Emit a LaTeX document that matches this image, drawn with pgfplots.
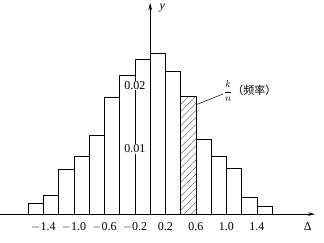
\documentclass[border=0pt]{standalone}
\usepackage{pgfplots}
\pgfplotsset{compat=1.18}
\usepackage{fontspec}
\setmainfont{Liberation Serif}
\newfontfamily\cjk{Noto Sans CJK SC}
\usetikzlibrary{arrows.meta,patterns.meta}
\begin{document}
\begin{tikzpicture}
\fontsize{12pt}{14pt}\selectfont
\begin{axis}[
  scale only axis,
  width=315pt, height=211.3pt,
  xmin=-1.965, xmax=2.161,
  ymin=0, ymax=0.03266,
  axis lines=middle,
  axis line style={line width=0.6pt,-{Stealth[length=7pt,width=3.5pt]}},
  xtick={-1.4,-1.0,-0.6,-0.2,0.2,0.6,1.0,1.4},
  xticklabels={$-$1.4,$-$1.0,$-$0.6,$-$0.2,0.2,0.6,1.0,1.4},
  ytick=\empty,
  major tick length=0pt,
  xticklabel style={font=\fontsize{12pt}{14pt}\selectfont, yshift=-4pt, inner xsep=0pt},
  clip=false,
]
\addplot[ybar interval, draw=black, fill=white, line width=0.8pt] coordinates {
  (-1.6,0.0017) (-1.4,0.0029) (-1.2,0.0069) (-1.0,0.00886)
  (-0.8,0.01216) (-0.6,0.01804) (-0.4,0.02148) (-0.2,0.0240)
  (0.0,0.02488) (0.2,0.02215) (0.4,0.01819) (0.6,0.01148)
  (0.8,0.00886) (1.0,0.0070) (1.2,0.00263) (1.4,0.00119) (1.6,0)
};
\addplot[ybar interval, draw=black, line width=0.8pt,
  pattern={Lines[angle=45,distance=5pt,line width=0.35pt]}, pattern color=black!70] coordinates {
  (0.4,0.01819) (0.6,0)
};
\draw[line width=0.6pt] (axis cs:0,0) -- (axis cs:0,0.0249);
\node[fill=white, inner sep=0.8pt] at (axis cs:-0.2,0.0199) {0.02};
\node[fill=white, inner sep=0.8pt] at (axis cs:-0.2,0.0101) {0.01};
\node[anchor=west] at (axis cs:0.07,0.0318) {\textit{y}};
\node at (axis cs:2.066,-0.0020) {Δ};
\draw[line width=0.5pt] (axis cs:0.6,0.0169) -- (axis cs:0.956,0.01859);
\node[anchor=west, inner sep=0pt] at (axis cs:0.965,0.01906) {{\fontsize{10pt}{12pt}\selectfont$\displaystyle\frac{k}{n}$}{\cjk\fontsize{11pt}{13pt}\selectfont （频率）}};
\path (axis cs:-1.965,-0.00444) rectangle (axis cs:2.279,0.03312);
\end{axis}
\end{tikzpicture}
\end{document}
